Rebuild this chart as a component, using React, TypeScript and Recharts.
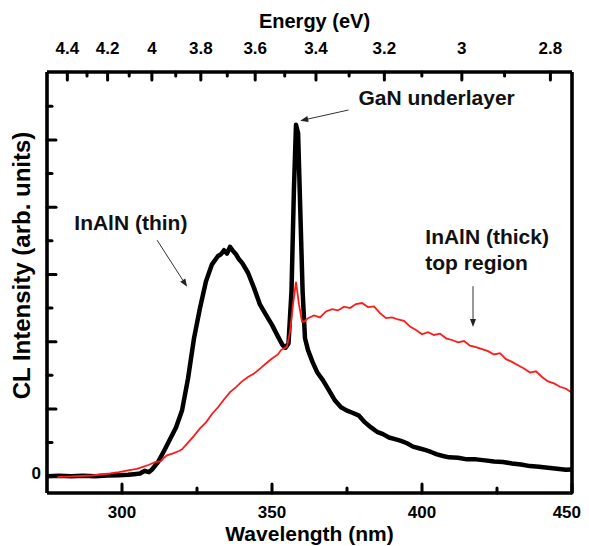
import React from 'react';
import { LineChart, Line, XAxis, YAxis, ReferenceLine, ReferenceDot, Label } from 'recharts';

// ---- data ----
const BLACK_WL = [275, 279, 283, 287, 291, 295, 299, 302, 304, 306, 307.5, 309, 310, 312, 314, 316, 318, 320, 322, 324, 326, 328, 330, 332, 333, 334, 335, 336, 337, 338, 339, 340, 342, 344, 346, 348, 350, 352, 353.5, 354.5, 355.5, 356.5, 357.3, 358, 358.7, 359.4, 360.2, 361, 362, 363.5, 365, 367, 369, 371, 373, 375, 377, 379, 381, 383, 385, 387, 389, 391, 393, 395, 397, 399, 401, 403, 405, 407, 409, 412, 415, 418, 421, 424, 427, 430, 433, 436, 439, 442, 445, 448, 450];
const BLACK_I = [0.0, 0.01, 0.0, 0.01, 0.0, 0.02, 0.03, 0.04, 0.06, 0.08, 0.16, 0.12, 0.2, 0.42, 0.75, 1.1, 1.45, 1.95, 2.9, 4.1, 5.0, 5.8, 6.3, 6.55, 6.6, 6.72, 6.62, 6.82, 6.7, 6.6, 6.45, 6.35, 6.05, 5.6, 5.1, 4.8, 4.5, 4.15, 3.9, 3.82, 3.95, 5.5, 8.5, 10.45, 10.2, 8.0, 5.5, 4.1, 3.75, 3.4, 3.1, 2.85, 2.55, 2.25, 2.05, 1.95, 1.88, 1.8, 1.6, 1.45, 1.32, 1.25, 1.15, 1.1, 1.05, 0.98, 0.88, 0.83, 0.78, 0.72, 0.65, 0.6, 0.56, 0.55, 0.5, 0.5, 0.47, 0.44, 0.42, 0.38, 0.35, 0.3, 0.28, 0.25, 0.22, 0.19, 0.2];

const RED_WL = [275, 280, 285, 290, 293, 296, 299, 302, 305, 307, 309, 311, 313, 314, 315, 317, 319, 320, 322, 324, 326, 328, 330, 332, 334, 336, 338, 340, 342, 344, 346, 348, 350, 352, 353, 354, 355, 356, 357, 358, 359, 360, 360.8, 362, 364, 366, 368, 370, 372, 374, 376, 378, 380, 382, 384, 386, 388, 390, 392, 394, 396, 398, 400, 402, 404, 406, 408, 410, 412, 414, 416, 418, 420, 422, 424, 426, 428, 430, 432, 434, 436, 438, 440, 442, 444, 446, 448, 450];
const RED_I = [-0.02, -0.02, 0.0, 0.02, 0.05, 0.08, 0.12, 0.17, 0.22, 0.28, 0.34, 0.42, 0.45, 0.55, 0.62, 0.68, 0.75, 0.8, 1.0, 1.2, 1.42, 1.6, 1.85, 2.05, 2.28, 2.5, 2.65, 2.82, 2.95, 3.05, 3.2, 3.35, 3.5, 3.62, 3.75, 3.8, 3.85, 4.3, 5.1, 5.78, 5.1, 4.6, 4.6, 4.7, 4.78, 4.72, 4.9, 4.97, 4.93, 5.04, 5.0, 5.12, 5.15, 5.03, 5.05, 4.85, 4.7, 4.72, 4.66, 4.62, 4.45, 4.35, 4.22, 4.28, 4.2, 4.24, 4.1, 4.05, 3.98, 4.02, 3.88, 3.84, 3.78, 3.72, 3.62, 3.66, 3.48, 3.4, 3.3, 3.2, 3.08, 3.12, 2.95, 2.82, 2.76, 2.66, 2.6, 2.48];

const WL_TICKS = [300, 325, 350, 375, 400, 425, 450];
const WL_LABELED = [300, 350, 400, 450];
const ENERGY_TICKS = [4.4, 4.3, 4.2, 4.1, 4.0, 3.9, 3.8, 3.7, 3.6, 3.5, 3.4, 3.3, 3.2, 3.1, 3.0, 2.9, 2.8];
const ENERGY_LABELS = ['4.4', '', '4.2', '', '4', '', '3.8', '', '3.6', '', '3.4', '', '3.2', '', '3', '', '2.8'];
const Y_TICKS = [0, 1, 2, 3, 4, 5, 6, 7, 8, 9, 10, 11];
const Y_LABELED = [0];
const HC = 1239.84; // eV*nm, energy <-> wavelength

const X_DOMAIN = [275, 450];
const Y_DOMAIN = [-0.5, 12.02];

const blackData = BLACK_WL.map((x, i) => ({ x, y: BLACK_I[i] }));
const redData = RED_WL.map((x, i) => ({ x, y: RED_I[i] }));
const energyWl = ENERGY_TICKS.map((e) => HC / e);

const FONT = '"Liberation Sans", Arial, sans-serif';
const AXIS_W = 3.6;

const BottomTick = (props: any) => {
  const { x, y, payload } = props;
  const v = payload.value;
  const major = WL_LABELED.includes(v);
  const isLast = v === X_DOMAIN[1];
  return (
    <g>
      <line x1={x} y1={y} x2={x} y2={y - (major ? 9 : 5)} stroke="#000" strokeWidth={3} strokeLinecap="round" />
      {major && (
        <text
          x={isLast ? x + 9 : x}
          y={y + 19}
          textAnchor={isLast ? 'end' : 'middle'}
          dominantBaseline="central"
          fontFamily={FONT}
          fontWeight="bold"
          fontSize={17}
          fill="#000"
        >
          {v}
        </text>
      )}
    </g>
  );
};

const TopTick = (props: any) => {
  const { x, y, index } = props;
  const label = ENERGY_LABELS[index];
  const major = label !== '';
  return (
    <g>
      <line x1={x} y1={y} x2={x} y2={y + (major ? 8 : 4)} stroke="#000" strokeWidth={3} strokeLinecap="round" />
      {major && (
        <text x={x} y={y - 24} textAnchor="middle" dominantBaseline="central" fontFamily={FONT} fontWeight="bold" fontSize={17} fill="#000">
          {label}
        </text>
      )}
    </g>
  );
};

const LeftTick = (props: any) => {
  const { x, y, payload } = props;
  const v = payload.value;
  const major = v % 2 === 0;
  return (
    <g>
      <line x1={x} y1={y} x2={x + (major ? 9 : 5)} y2={y} stroke="#000" strokeWidth={3} strokeLinecap="round" />
      {Y_LABELED.includes(v) && (
        <text x={x - 6} y={y - 3} textAnchor="end" dominantBaseline="central" fontFamily={FONT} fontWeight="bold" fontSize={17} fill="#000">
          {v}
        </text>
      )}
    </g>
  );
};

const arrowShape = (p: any) => {
  const { x1, y1, x2, y2 } = p;
  const ang = Math.atan2(y2 - y1, x2 - x1);
  const L = 8;
  const W = 3;
  const bx = x2 - L * Math.cos(ang);
  const by = y2 - L * Math.sin(ang);
  const px = -Math.sin(ang) * W;
  const py = Math.cos(ang) * W;
  return (
    <g>
      <line x1={x1} y1={y1} x2={bx} y2={by} stroke="#333" strokeWidth={1} />
      <polygon points={`${x2},${y2} ${bx + px},${by + py} ${bx - px},${by - py}`} fill="#222" />
    </g>
  );
};

const textShape = (txt: string) => (p: any) => (
  <text x={p.cx} y={p.cy} textAnchor="start" dominantBaseline="central" fontFamily={FONT} fontWeight="bold" fontSize={21} fill="#111">
    {txt}
  </text>
);

export default function App() {
  return (
    <div style={{ width: 581, height: 538 }}>
      <style>{`html { overflow: hidden; }`}</style>
      <LineChart width={581} height={538} margin={{ top: 0, right: 0, bottom: 0, left: 0 }}>
        <XAxis
          xAxisId={0}
          dataKey="x"
          type="number"
          domain={X_DOMAIN}
          allowDataOverflow
          ticks={WL_TICKS}
          interval={0}
          height={53}
          tickSize={0}
          tickMargin={0}
          tick={<BottomTick />}
          axisLine={{ stroke: '#000', strokeWidth: AXIS_W }}
          tickLine={false}
        >
          <Label
            content={(lp: any) => {
              const vb = lp.viewBox;
              return (
                <text x={vb.x + vb.width / 2} y={vb.y + 40} textAnchor="middle" dominantBaseline="central" fontFamily={FONT} fontWeight="bold" fontSize={21} fill="#000">
                  Wavelength (nm)
                </text>
              );
            }}
          />
        </XAxis>
        <XAxis
          xAxisId="top"
          orientation="top"
          dataKey="x"
          type="number"
          domain={X_DOMAIN}
          allowDataOverflow
          ticks={energyWl}
          interval={0}
          height={64}
          tickSize={0}
          tickMargin={0}
          tick={<TopTick />}
          axisLine={{ stroke: '#000', strokeWidth: AXIS_W }}
          tickLine={false}
        >
          <Label
            content={(lp: any) => {
              const vb = lp.viewBox;
              return (
                <text x={vb.x + vb.width / 2 + 5} y={vb.y + 13} textAnchor="middle" dominantBaseline="central" fontFamily={FONT} fontWeight="bold" fontSize={20} fill="#000">
                  Energy (eV)
                </text>
              );
            }}
          />
        </XAxis>
        <YAxis
          yAxisId={0}
          type="number"
          domain={Y_DOMAIN}
          allowDataOverflow
          ticks={Y_TICKS}
          interval={0}
          width={39}
          tickSize={0}
          tickMargin={0}
          tick={<LeftTick />}
          axisLine={{ stroke: '#000', strokeWidth: AXIS_W }}
          tickLine={false}
        >
          <Label
            content={(lp: any) => {
              const vb = lp.viewBox;
              const cx = 13;
              const cy = vb.y + vb.height / 2 - 17;
              return (
                <text x={cx} y={cy} transform={`rotate(-90 ${cx} ${cy})`} textAnchor="middle" dominantBaseline="central" fontFamily={FONT} fontWeight="bold" fontSize={24} fill="#000">
                  CL Intensity (arb. units)
                </text>
              );
            }}
          />
        </YAxis>
        <YAxis
          yAxisId="right"
          orientation="right"
          type="number"
          domain={Y_DOMAIN}
          allowDataOverflow
          width={17}
          tick={false}
          tickLine={false}
          axisLine={{ stroke: '#000', strokeWidth: AXIS_W }}
        />
        <Line
          xAxisId="top"
          yAxisId="right"
          data={blackData}
          dataKey="y"
          stroke="none"
          dot={false}
          activeDot={false}
          isAnimationActive={false}
        />
        <Line
          data={blackData}
          dataKey="y"
          type="linear"
          stroke="#000"
          strokeWidth={4.5}
          strokeLinejoin="round"
          dot={false}
          activeDot={false}
          isAnimationActive={false}
        />
        <Line
          data={redData}
          dataKey="y"
          type="linear"
          stroke="#ff1a1a"
          strokeWidth={1.8}
          dot={false}
          activeDot={false}
          isAnimationActive={false}
        />
        <ReferenceLine segment={[{ x: 375.5, y: 10.89 }, { x: 359.4, y: 10.57 }]} shape={arrowShape} />
        <ReferenceLine segment={[{ x: 311.7, y: 7.02 }, { x: 321.7, y: 5.63 }]} shape={arrowShape} />
        <ReferenceLine segment={[{ x: 417, y: 5.65 }, { x: 417, y: 4.44 }]} shape={arrowShape} />
        <ReferenceDot x={378.8} y={11.25} r={0} shape={textShape('GaN underlayer')} />
        <ReferenceDot x={284.1} y={7.55} r={0} shape={textShape('InAlN (thin)')} />
        <ReferenceDot x={401.1} y={7.12} r={0} shape={textShape('InAlN (thick)')} />
        <ReferenceDot x={401.1} y={6.34} r={0} shape={textShape('top region')} />
      </LineChart>
    </div>
  );
}
